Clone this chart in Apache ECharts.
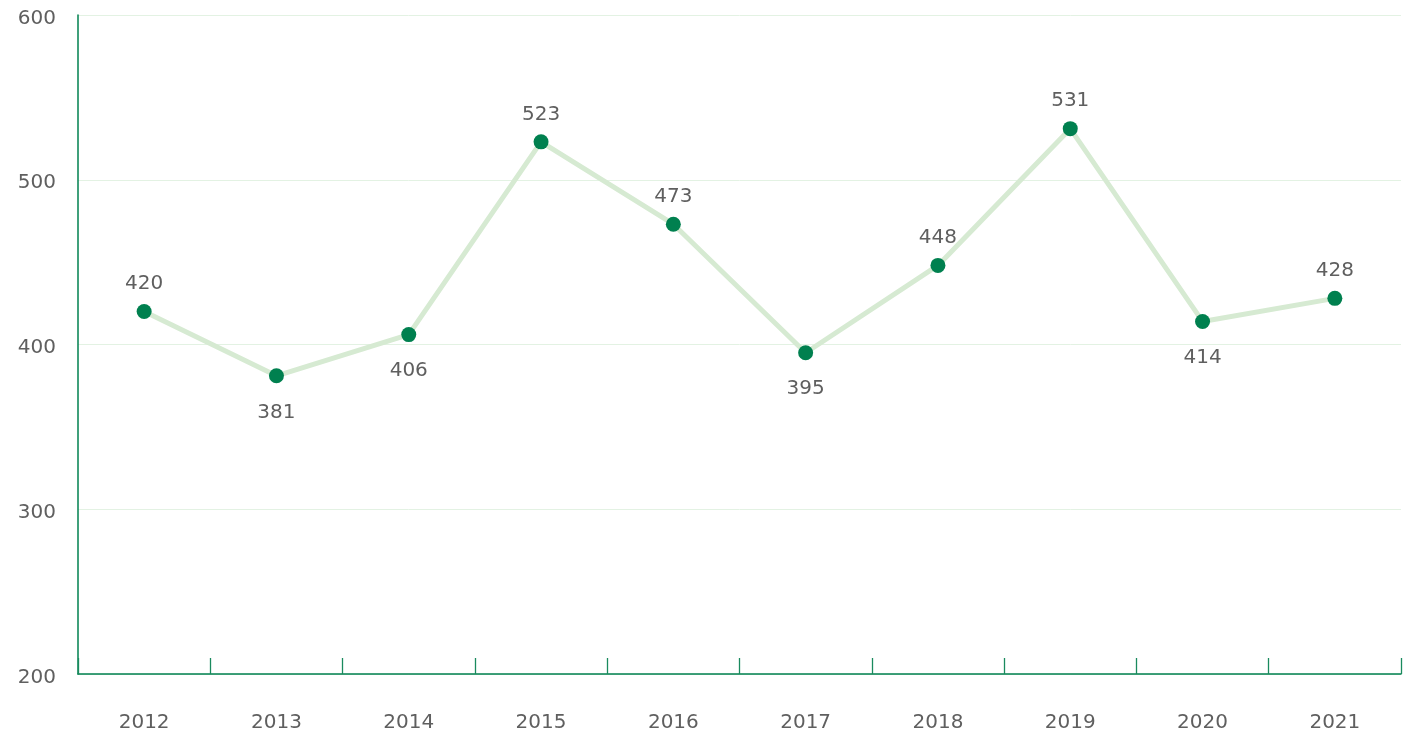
<!DOCTYPE html>
<html><head><meta charset="utf-8">
<script src="https://cdn.jsdelivr.net/npm/echarts@6/dist/echarts.min.js"></script>
<style>html,body{margin:0;padding:0;background:#fff}#c{width:1407px;height:738px}</style>
</head><body><div id="c"></div>
<script>
const years = ['2012','2013','2014','2015','2016','2017','2018','2019','2020','2021'];
const values = [420,381,406,523,473,395,448,531,414,428];
const labelPositions = ['top','bottom','bottom','top','top','bottom','top','top','bottom','top'];
const yTicks = { min: 200, max: 600, interval: 100 };

const chart = echarts.init(document.getElementById('c'));
const font = '"DejaVu Sans", sans-serif';
chart.setOption({
  animation: false,
  grid: { left: 78, right: 6, top: 15, bottom: 64 },
  xAxis: {
    type: 'category', data: years, boundaryGap: true,
    axisLine: { lineStyle: { color: '#00804f', width: 1.5 } },
    axisTick: { show: true, inside: true, length: 16, lineStyle: { color: '#1a8a5e', width: 1.3 } },
    axisLabel: { color: '#5f5f5f', fontSize: 20, fontFamily: font, margin: 39 }
  },
  yAxis: {
    type: 'value', min: yTicks.min, max: yTicks.max, interval: yTicks.interval,
    axisLine: { show: true, lineStyle: { color: '#00804f', width: 1.5 } },
    axisTick: { show: false },
    splitLine: { lineStyle: { color: '#e3f2e3', width: 1 } },
    axisLabel: {
      margin: 22, verticalAlign: 'middle',
      formatter: '{a|{value}}',
      rich: { a: { color: '#5f5f5f', fontSize: 20, fontFamily: font, padding: [7, 0, 0, 0] } }
    }
  },
  series: [{
    type: 'line',
    data: values.map((v, i) => ({
      value: v,
      label: { position: labelPositions[i], distance: labelPositions[i] === 'top' ? 10 : 19 }
    })),
    symbol: 'circle', symbolSize: 15,
    lineStyle: { color: '#d6ead2', width: 5 },
    itemStyle: { color: '#00804f' },
    label: { show: true, color: '#5f5f5f', fontSize: 20, fontFamily: font }
  }]
});
</script></body></html>
